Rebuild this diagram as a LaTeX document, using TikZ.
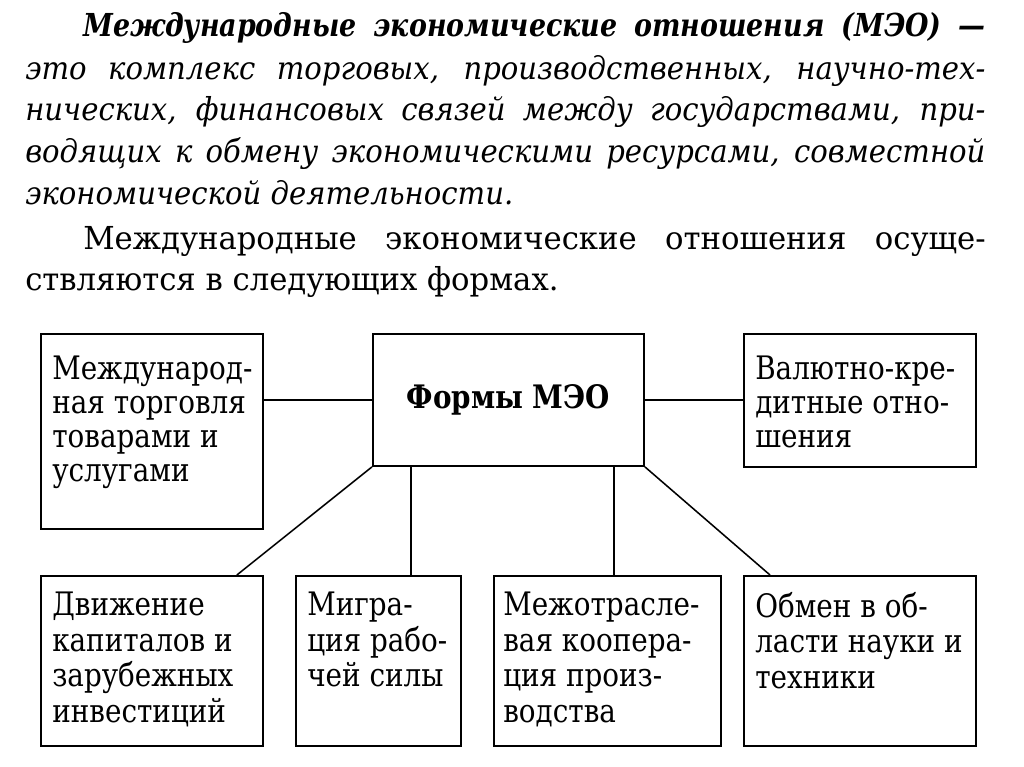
\documentclass[tikz,border=0pt]{standalone}
\usepackage{fontspec}
\setmainfont[FakeStretch=0.86]{DejaVu Serif}
\newfontfamily\parafont[FakeStretch=0.97]{DejaVu Serif}
\newfontfamily\itfont[FakeStretch=0.92]{DejaVu Serif}
\newfontfamily\bitfont[FakeStretch=0.85]{DejaVu Serif}
\tikzset{
  box/.style={draw, line width=1.3pt, anchor=north west, inner sep=0pt},
  link/.style={line width=1.1pt},
  txt/.style={anchor=north west, inner sep=0pt, align=left, font=\fontsize{23}{24}\selectfont},
  btxt/.style={txt, font=\fontsize{23}{25.2}\selectfont},
  para/.style={anchor=base west, inner sep=0pt, font=\parafont\fontsize{22.5}{28}\selectfont},
  ipara/.style={para, font=\itfont\fontsize{22.5}{28}\selectfont\itshape},
  bpara/.style={para, font=\bitfont\fontsize{22.5}{28}\selectfont\bfseries\itshape}
}
\begin{document}
\begin{tikzpicture}[x=0.025cm, y=-0.025cm]
\useasboundingbox (0,0) rectangle (1024,767);
% text above the scheme
\node[bpara] (p1) at (83,37) {\makebox[22.55cm][s]{Международные экономические отношения (МЭО) —}};
\foreach \y/\t [count=\i from 2] in {80/{это комплекс торговых, производственных, научно-тех-},
    121/{нических, финансовых связей между государствами, при-},
    163/{водящих к обмену экономическими ресурсами, совместной}} {
  \node[ipara] (p\i) at (25,\y) {\makebox[24cm][s]{\t}};
}
\node[ipara] (p5) at (25,205) {экономической деятельности.};
\node[para] (p6) at (83,250) {\makebox[22.55cm][s]{Международные экономические отношения осуще-}};
\node[para] (p7) at (25,290) {ствляются в следующих формах.};

% boxes
\node[box, minimum width=6.775cm, minimum height=3.3cm, font=\fontsize{23}{28}\selectfont\bfseries] (forms) at (372,333) {Формы МЭО};
\node[box, minimum width=5.55cm, minimum height=4.875cm] (trade) at (40,333) {};
\node[box, minimum width=5.8cm, minimum height=3.325cm] (credit) at (743,333) {};
\foreach \x/\w/\n in {40/5.55/capital, 295/4.125/labour, 493/5.675/coop, 743/5.8/science} {
  \node[box, minimum width=\w cm, minimum height=4.25cm] (\n) at (\x,575) {};
}

% box texts
\node[txt] (tradet) at ([shift={(12,23)}]trade.north west) {Международ-\\ная торговля\\товарами и\\услугами};
\node[txt] (creditt) at ([shift={(12,23)}]credit.north west) {Валютно-кре-\\дитные отно-\\шения};
\node[btxt] (capitalt) at ([shift={(12,17)}]capital.north west) {Движение\\капиталов и\\зарубежных\\инвестиций};
\node[btxt] (labourt) at ([shift={(12,17)}]labour.north west) {Мигра-\\ция рабо-\\чей силы};
\node[btxt] (coopt) at ([shift={(10,17)}]coop.north west) {Межотрасле-\\вая коопера-\\ция произ-\\водства};
\node[btxt] (sciencet) at ([shift={(12,17)}]science.north west) {Обмен в об-\\ласти науки и\\техники};

% connectors
\draw[link] (forms.west) -- (forms.west -| trade.east);
\draw[link] (forms.east) -- (forms.east -| credit.west);
\draw[link] (forms.south west) -- ([xshift=-0.675cm]capital.north east);
\coordinate (v1) at ([xshift=0.975cm]forms.south west);
\coordinate (v2) at ([xshift=-0.775cm]forms.south east);
\draw[link] (v1) -- (v1 |- labour.north);
\draw[link] (v2) -- (v2 |- coop.north);
\draw[link] (forms.south east) -- ([xshift=0.675cm]science.north west);
\end{tikzpicture}
\end{document}
